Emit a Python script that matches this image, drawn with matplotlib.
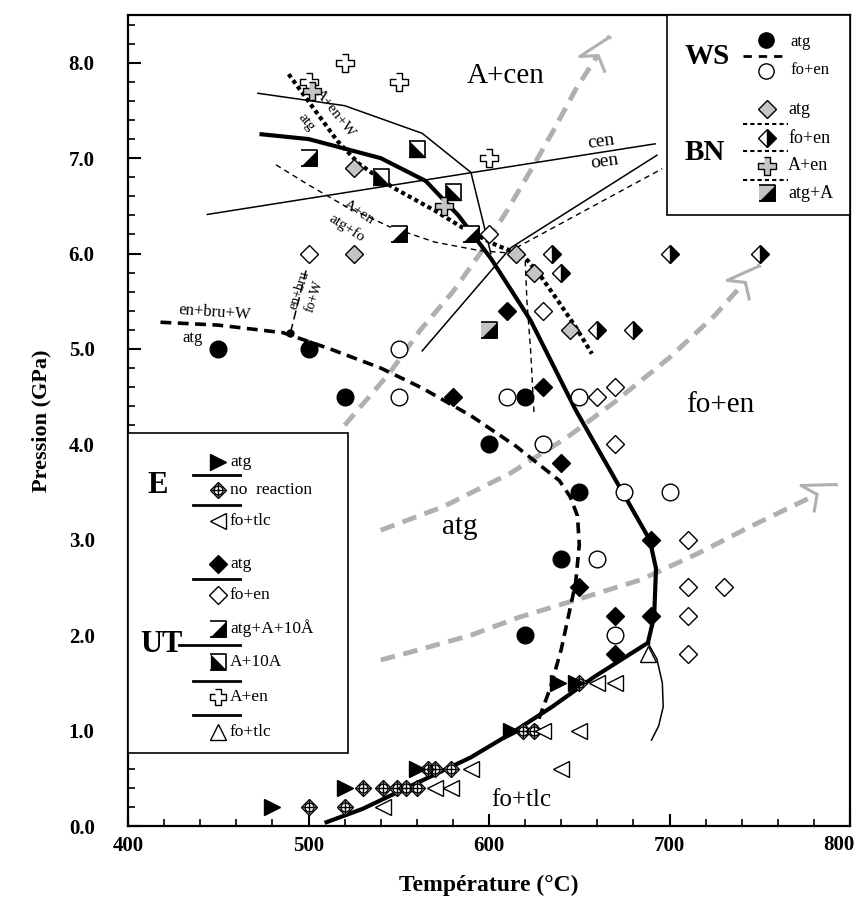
import numpy as np
import matplotlib.pyplot as plt
from matplotlib.markers import MarkerStyle
from matplotlib.transforms import Affine2D
from matplotlib.patches import Rectangle
from matplotlib.ticker import MultipleLocator, FormatStrFormatter, FuncFormatter

plt.rcParams['font.family'] = ['Liberation Serif', 'DejaVu Serif']

# ---------------- data (T in degC, P in GPa) ----------------
# WS : circles
ws_atg_T = [450, 500, 520, 620, 600, 650, 640, 620]
ws_atg_P = [5.0, 5.0, 4.5, 4.5, 4.0, 3.5, 2.8, 2.0]
ws_foen_T = [550, 550, 610, 650, 630, 675, 700, 660, 670]
ws_foen_P = [5.0, 4.5, 4.5, 4.5, 4.0, 3.5, 3.5, 2.8, 2.0]

# UT
ut_atg_T = [610, 580, 630, 640, 690, 650, 670, 690, 670]
ut_atg_P = [5.4, 4.5, 4.6, 3.8, 3.0, 2.5, 2.2, 2.2, 1.8]
ut_foen_T = [500, 600, 630, 660, 670, 670, 710, 710, 730, 710, 710]
ut_foen_P = [6.0, 6.2, 5.4, 4.5, 4.6, 4.0, 3.0, 2.5, 2.5, 2.2, 1.8]
ut_atgA10_T = [500, 590, 550]
ut_atgA10_P = [7.0, 6.2, 6.2]
ut_A10_T = [560, 540, 580]
ut_A10_P = [7.1, 6.8, 6.65]
ut_Aen_T = [520, 550, 500, 600]
ut_Aen_P = [8.0, 7.8, 7.8, 7.0]
ut_fotlc_T = [688]
ut_fotlc_P = [1.8]

# BN
bn_atg_T = [525, 525, 615, 625, 645]
bn_atg_P = [6.9, 6.0, 6.0, 5.8, 5.2]
bn_foen_T = [660, 680, 635, 640, 700, 750]
bn_foen_P = [5.2, 5.2, 6.0, 5.8, 6.0, 6.0]
bn_Aen_T = [502, 575]
bn_Aen_P = [7.7, 6.5]
bn_atgA_T = [600]
bn_atgA_P = [5.2]

# E
e_atg_T = [480, 520, 560, 612, 638, 648]
e_atg_P = [0.2, 0.4, 0.6, 1.0, 1.5, 1.5]
e_nr_T = [500, 520, 530, 541, 549, 554, 560, 566, 570, 579, 619, 625, 650]
e_nr_P = [0.2, 0.2, 0.4, 0.4, 0.4, 0.4, 0.4, 0.6, 0.6, 0.6, 1.0, 1.0, 1.5]
e_nr_err = 0.2   # lower bar on the first point
e_fotlc_T = [541, 570, 579, 590, 640, 630, 650, 660, 670]
e_fotlc_P = [0.2, 0.4, 0.4, 0.6, 0.6, 1.0, 1.0, 1.5, 1.5]

# reaction curves
main_T = [474, 500, 540, 565, 583, 601, 623, 648, 667, 689, 692.5, 691.5, 688]
main_P = [7.25, 7.2, 7.0, 6.76, 6.4, 5.95, 5.3, 4.36, 3.73, 3.0, 2.7, 2.2, 1.92]
tlc_T = [510, 530, 560, 590, 613, 635, 658, 688]
tlc_P = [0.04, 0.18, 0.45, 0.72, 0.98, 1.25, 1.56, 1.92]
arc_T = [688, 693, 696, 696.5, 694, 690]
arc_P = [1.92, 1.75, 1.5, 1.25, 1.05, 0.9]
ws_T = [418, 450, 486, 512, 540, 563, 590, 615, 639, 645, 649, 650, 648, 644, 640, 634, 626]
ws_P = [5.28, 5.25, 5.17, 5.0, 4.8, 4.59, 4.3, 3.98, 3.62, 3.45, 3.25, 2.95, 2.55, 2.2, 1.85, 1.45, 1.04]
inv_T = [490]
inv_P = [5.17]
bru_T = [490, 499]
bru_P = [5.17, 5.85]
bn_T = [489, 516, 528, 547, 570, 588, 605, 619, 628, 638, 648, 657]
bn_P = [7.88, 7.18, 6.94, 6.69, 6.45, 6.24, 6.08, 5.98, 5.78, 5.51, 5.23, 4.95]
cen_top_T = [472, 520, 563, 590, 601]
cen_top_P = [7.68, 7.55, 7.26, 6.85, 6.0]
cen_T = [444, 591, 692]
cen_P = [6.41, 6.85, 7.15]
oen_T = [563, 612, 693]
oen_P = [4.98, 6.06, 7.03]
aen_T = [482, 500, 520, 545, 570, 595, 615, 620, 621, 623, 625]
aen_P = [6.93, 6.72, 6.5, 6.28, 6.12, 6.03, 6.0, 5.95, 5.5, 5.0, 4.3]
aen2_T = [615, 696]
aen2_P = [6.06, 6.89]

# grey P-T paths
path_a_T = [520, 545, 562, 580, 595, 610, 623, 636, 648, 667]
path_a_P = [4.2, 4.75, 5.2, 5.6, 6.0, 6.45, 6.87, 7.3, 7.72, 8.28]
path_b_T = [540, 575, 612, 643, 670, 700, 725, 750]
path_b_P = [3.1, 3.35, 3.7, 4.07, 4.45, 4.91, 5.35, 5.88]
path_c_T = [540, 556, 590, 617, 650, 684, 715, 746, 793]
path_c_P = [1.74, 1.82, 2.0, 2.19, 2.38, 2.58, 2.85, 3.15, 3.58]

# ---------------- figure ----------------
fig = plt.figure(figsize=(8.63, 9.11), dpi=100)
ax = fig.add_axes([0.1483, 0.0933, 0.8367, 0.8902])
ax.set_xlim(400, 800)
ax.set_ylim(0, 8.5)

SQ = [(-1, -1), (1, -1), (1, 1), (-1, 1)]
TRI_LR = [(-1, -1), (1, -1), (1, 1)]
TRI_LL = [(-1, -1), (1, -1), (-1, 1)]
PLUS = [(-0.36, 1), (0.36, 1), (0.36, 0.36), (1, 0.36), (1, -0.36), (0.36, -0.36),
        (0.36, -1), (-0.36, -1), (-0.36, -0.36), (-1, -0.36), (-1, 0.36), (-0.36, 0.36)]
HEAD = [(0, 0), (-1, 0.45), (-0.68, 0), (-1, -0.45)]
GREY = '#c4c4c4'
ARROW = '#b0b0b0'


def circ(x, y, filled, ms=12, z=4):
    ax.plot(x, y, ls='none', marker='o', ms=ms, mfc='black' if filled else 'white',
            mec='black', mew=1, zorder=z)


def diam(x, y, face, ms=9, z=4):
    ax.plot(x, y, ls='none', marker='D', ms=ms, mfc=face, mec='black', mew=1, zorder=z)


def half_diam(x, y, ms=9, z=4):
    ax.plot(x, y, ls='none', marker='D', ms=ms, fillstyle='right', mfc='black',
            mfcalt='white', mec='black', mew=1, zorder=z)


def half_sq(x, y, tri, face='white', ms=12, z=4):
    ax.plot(x, y, ls='none', marker=SQ, ms=ms, mfc=face, mec='black', mew=1.2, zorder=z)
    ax.plot(x, y, ls='none', marker=tri, ms=ms, mfc='black', mec='black', mew=0.5, zorder=z)


def cross(x, y, face, ms=13, z=4):
    ax.plot(x, y, ls='none', marker=PLUS, ms=ms, mfc=face, mec='black', mew=1, zorder=z)


def noreac(x, y, z=4):
    ax.plot(x, y, ls='none', marker='D', ms=8, mfc='white', mec='black', mew=1, zorder=z)
    ax.plot(x, y, ls='none', marker='o', ms=6.5, mfc='none', mec='black', mew=1, zorder=z)
    ax.plot(x, y, ls='none', marker='+', ms=10, mec='black', mew=1, zorder=z)


def rtri(x, y, z=4):
    ax.plot(x, y, ls='none', marker='>', ms=11, mfc='black', mec='black', zorder=z)


def ltri(x, y, z=4):
    ax.plot(x, y, ls='none', marker='<', ms=11, mfc='white', mec='black', mew=1, zorder=z)


def utri(x, y, z=4):
    ax.plot(x, y, ls='none', marker='^', ms=12, mfc='white', mec='black', mew=1, zorder=z)


# grey paths with open arrow heads
for xs, ys in [(path_a_T, path_a_P), (path_b_T, path_b_P), (path_c_T, path_c_P)]:
    ax.plot(xs, ys, color=ARROW, lw=3.5, dashes=(3, 1.8), zorder=1)
    p1 = ax.transData.transform((xs[-2], ys[-2]))
    p2 = ax.transData.transform((xs[-1], ys[-1]))
    ang = np.degrees(np.arctan2(p2[1] - p1[1], p2[0] - p1[0]))
    m = MarkerStyle(HEAD, transform=Affine2D().rotate_deg(ang))
    ax.plot(xs[-1], ys[-1], marker=m, ms=48, mfc='white', mec=ARROW, mew=2.2, zorder=1.5)

# reaction curves
ax.plot(main_T, main_P, color='black', lw=3, zorder=2)
ax.plot(tlc_T, tlc_P, color='black', lw=3, zorder=2)
ax.plot(arc_T, arc_P, color='black', lw=1.1, zorder=2)
ax.plot(ws_T, ws_P, color='black', lw=2.6, dashes=(3, 1.8), zorder=2)
ax.plot(bru_T, bru_P, color='black', lw=1.1, dashes=(6, 3), zorder=2)
ax.plot(inv_T, inv_P, 'o', color='black', ms=5, zorder=2)
ax.plot(bn_T, bn_P, color='black', lw=3, dashes=(1, 0.8), zorder=2)
ax.plot(cen_top_T, cen_top_P, color='black', lw=1.1, zorder=2)
ax.plot(cen_T, cen_P, color='black', lw=1.1, zorder=2)
ax.plot(oen_T, oen_P, color='black', lw=1.1, zorder=2)
ax.plot(aen_T, aen_P, color='black', lw=1, dashes=(4, 3), zorder=2)
ax.plot(aen2_T, aen2_P, color='black', lw=1, dashes=(4, 3), zorder=2)

# experiments
ax.errorbar(e_nr_T[:1], e_nr_P[:1], yerr=[[e_nr_err], [0]], fmt='none', ecolor='black',
            elinewidth=1.2, capsize=0, zorder=3)
noreac(e_nr_T, e_nr_P)
ltri(e_fotlc_T, e_fotlc_P)
rtri(e_atg_T, e_atg_P)
utri(ut_fotlc_T, ut_fotlc_P)
diam(ut_foen_T, ut_foen_P, 'white')
diam(bn_atg_T, bn_atg_P, GREY)
half_diam(bn_foen_T, bn_foen_P)
circ(ws_foen_T, ws_foen_P, False)
circ(ws_atg_T, ws_atg_P, True)
diam(ut_atg_T, ut_atg_P, 'black')
half_sq(ut_atgA10_T, ut_atgA10_P, TRI_LR)
half_sq(ut_A10_T, ut_A10_P, TRI_LL)
half_sq(bn_atgA_T, bn_atgA_P, TRI_LR, face=GREY)
cross(ut_Aen_T, ut_Aen_P, 'white')
cross(bn_Aen_T, bn_Aen_P, GREY)

# field labels
ax.text(609, 7.86, 'A+cen', fontsize=21, ha='center', va='center')
ax.text(728, 4.41, 'fo+en', fontsize=21, ha='center', va='center')
ax.text(584, 3.13, 'atg', fontsize=21, ha='center', va='center')
ax.text(618, 0.27, 'fo+tlc', fontsize=18, ha='center', va='center')
ax.text(662, 7.17, 'cen', fontsize=14, ha='center', va='center', rotation=8)
ax.text(664, 6.96, 'oen', fontsize=14, ha='center', va='center', rotation=8)
ax.text(448, 5.38, 'en+bru+W', fontsize=12, ha='center', va='center', rotation=-4)
ax.text(436, 5.11, 'atg', fontsize=12, ha='center', va='center')
ax.text(495, 5.62, 'en+bru', fontsize=10, ha='center', va='center', rotation=72)
ax.text(503, 5.55, 'fo+W', fontsize=10, ha='center', va='center', rotation=72)
ax.text(515, 7.47, 'A+en+W', fontsize=11, ha='center', va='center', rotation=-52)
ax.text(499, 7.38, 'atg', fontsize=11, ha='center', va='center', rotation=-52)
ax.text(528, 6.43, 'A+en', fontsize=11, ha='center', va='center', rotation=-33)
ax.text(521, 6.27, 'atg+fo', fontsize=11, ha='center', va='center', rotation=-33)

# ---------------- top-right legend (WS / BN) ----------------
ax.add_patch(Rectangle((698.6, 6.40), 101.4, 2.1, fc='white', ec='black', lw=1.2, zorder=5))
ax.text(720.8, 8.07, 'WS', fontsize=21, fontweight='bold', ha='center', va='center', zorder=6)
ax.plot([740.7, 765.6], [8.07, 8.07], color='black', lw=2, dashes=(3, 2.5), zorder=6)
circ([753.5], [8.24], True, ms=11, z=6)
circ([753.5], [7.91], False, ms=11, z=6)
ax.text(767, 8.22, 'atg', fontsize=12, ha='left', va='center', zorder=6)
ax.text(767, 7.92, 'fo+en', fontsize=12, ha='left', va='center', zorder=6)
ax.text(719.7, 7.06, 'BN', fontsize=21, fontweight='bold', ha='center', va='center', zorder=6)
diam([754], [7.51], GREY, z=6)
half_diam([754], [7.21], z=6)
cross([754], [6.92], GREY, z=6)
half_sq([754], [6.63], TRI_LR, face=GREY, z=6)
for yy, lab in zip([7.51, 7.21, 6.92, 6.63], ['atg', 'fo+en', 'A+en', 'atg+A']):
    ax.text(765.6, yy, lab, fontsize=13, ha='left', va='center', zorder=6)
for yy in [7.36, 7.07, 6.77]:
    ax.plot([740.7, 765.6], [yy, yy], color='black', lw=1.5, dashes=(2, 1.5), zorder=6)

# ---------------- left legend (E / UT) ----------------
ax.add_patch(Rectangle((400, 0.77), 121.9, 3.345, fc='white', ec='black', lw=1.2, zorder=5))
ax.text(416.6, 3.57, 'E', fontsize=22, fontweight='bold', ha='center', va='center', zorder=6)
rtri([450], [3.81], z=6)
noreac([450], [3.52], z=6)
ltri([450], [3.20], z=6)
for yy, lab in zip([3.81, 3.52, 3.20], ['atg', 'no  reaction', 'fo+tlc']):
    ax.text(456.5, yy, lab, fontsize=12.5, ha='left', va='center', zorder=6)
for yy in [3.68, 3.36]:
    ax.plot([436, 462], [yy, yy], color='black', lw=2, zorder=6)

ax.text(418.8, 1.9, 'UT', fontsize=22, fontweight='bold', ha='center', va='center', zorder=6)
diam([450], [2.75], 'black', z=6)
diam([450], [2.42], 'white', z=6)
half_sq([450], [2.07], TRI_LR, ms=11, z=6)
half_sq([450], [1.72], TRI_LL, ms=11, z=6)
cross([450], [1.35], 'white', ms=12, z=6)
utri([450], [0.99], z=6)
for yy, lab in zip([2.75, 2.42, 2.07, 1.72, 1.35, 0.99],
                   ['atg', 'fo+en', 'atg+A+10\u00c5', 'A+10A', 'A+en', 'fo+tlc']):
    ax.text(456.5, yy, lab, fontsize=12.5, ha='left', va='center', zorder=6)
for yy in [2.59, 1.52, 1.16]:
    ax.plot([436, 462], [yy, yy], color='black', lw=2, zorder=6)
ax.plot([428, 462], [1.9, 1.9], color='black', lw=2, zorder=6)

# ---------------- axes ----------------
ax.xaxis.set_major_locator(MultipleLocator(100))
ax.xaxis.set_minor_locator(MultipleLocator(20))
ax.yaxis.set_major_locator(MultipleLocator(1))
ax.yaxis.set_minor_locator(MultipleLocator(0.2))
ax.yaxis.set_major_formatter(FormatStrFormatter('%.1f'))
# last x label is drawn separately so that it stays inside the figure
ax.xaxis.set_major_formatter(FuncFormatter(lambda v, p: '' if v >= 800 else '%d' % v))
ax.tick_params(which='major', direction='in', length=9, width=1.5, labelsize=15)
ax.tick_params(axis='x', which='major', pad=7)
ax.tick_params(axis='y', which='major', pad=24)
ax.tick_params(which='minor', direction='in', length=5, width=1.2)
for lab in ax.get_xticklabels() + ax.get_yticklabels():
    lab.set_fontweight('bold')
ax.text(1.006, -0.011, '800', transform=ax.transAxes, ha='right', va='top',
        fontsize=15, fontweight='bold')

ax.set_xlabel('Température (°C)', fontsize=17, fontweight='bold', labelpad=14)
ax.set_ylabel('Pression (GPa)', fontsize=16, fontweight='bold', labelpad=12)
for s in ax.spines.values():
    s.set_linewidth(1.6)

fig.savefig('out.png', dpi=100)
